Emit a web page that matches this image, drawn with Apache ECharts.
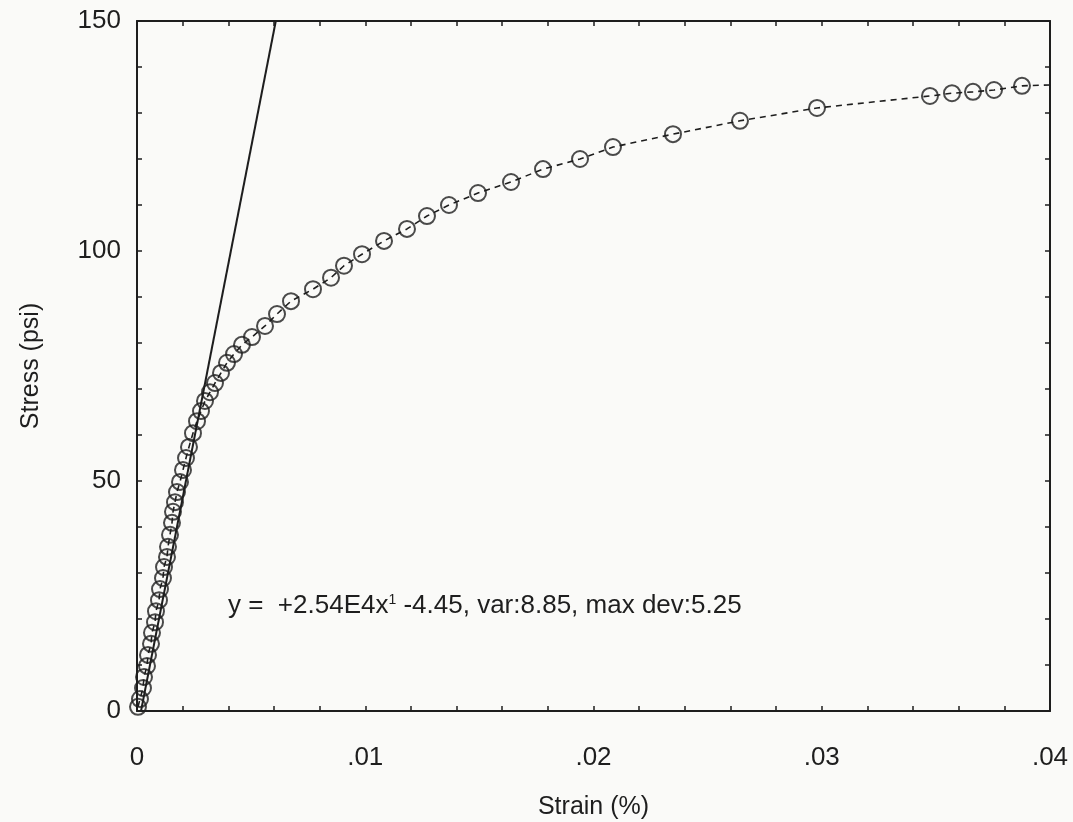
<!DOCTYPE html>
<html>
<head>
<meta charset="utf-8">
<script src="https://cdn.jsdelivr.net/npm/echarts@6/dist/echarts.min.js"></script>
<style>
  html, body { margin: 0; padding: 0; background: #fafaf8; }
  #chart { width: 1073px; height: 822px; }
</style>
</head>
<body>
<div id="chart"></div>
<script>
// Measured strain (%) and stress (psi) pairs
const strain = [
  0.000044, 0.000131, 0.000263, 0.000307, 0.000438, 0.000482, 0.000613, 0.000657,
  0.000789, 0.000832, 0.000964, 0.001008, 0.001139, 0.001183, 0.001314, 0.001358,
  0.001446, 0.001533, 0.001577, 0.001665, 0.001752, 0.001884, 0.002015, 0.002147,
  0.002278, 0.002453, 0.002629, 0.002804, 0.002979, 0.003198, 0.003417, 0.003680,
  0.003943, 0.004250, 0.004600, 0.005038, 0.005608, 0.006134, 0.006747, 0.007711,
  0.008500, 0.009069, 0.009858, 0.010822, 0.011829, 0.012705, 0.013669, 0.014940,
  0.016386, 0.017788, 0.019409, 0.020854, 0.023483, 0.026418, 0.029792, 0.034740,
  0.035706, 0.036626, 0.037547, 0.038773
];
const stress = [
  0.9, 2.6, 5.0, 7.4, 9.8, 12.2, 14.6, 17.0,
  19.3, 21.7, 24.1, 26.5, 28.9, 31.3, 33.5, 35.7,
  38.3, 40.9, 43.3, 45.4, 47.6, 49.8, 52.4, 55.0,
  57.4, 60.4, 63.0, 65.2, 67.4, 69.3, 71.3, 73.5,
  75.7, 77.6, 79.6, 81.3, 83.7, 86.3, 89.1, 91.7,
  94.2, 96.8, 99.3, 102.2, 104.8, 107.6, 110.0, 112.6,
  115.0, 117.8, 120.0, 122.6, 125.4, 128.3, 131.1, 133.7,
  134.3, 134.6, 135.0, 135.9
];
// Smoothed curve continues to the right edge of the plot
const curveEnd = [0.04, 136.1];

// Linear fit of the initial (elastic) region
const fitSlope = 2.54e4;
const fitIntercept = -4.45;
const fitVar = 8.85;
const fitMaxDev = 5.25;

const xTickLabels = ['0', '.01', '.02', '.03', '.04'];
const yTickLabels = ['0', '50', '100', '150'];

const xMin = 0, xMax = 0.04, xStep = 0.002;
const yMin = 0, yMax = 150, yStep = 10;

const points = strain.map((s, i) => [s, stress[i]]);
const curve = points.concat([curveEnd]);
const fitLine = [
  [0, fitIntercept],
  [(yMax - fitIntercept) / fitSlope, yMax]
];

const FONT = '"Liberation Sans", Arial, sans-serif';
const INK = '#1e1e1e';

function xLabel(v) {
  const k = Math.round(v / 0.01 * 1000) / 1000;
  if (Math.abs(k - Math.round(k)) > 1e-6) return '';
  return xTickLabels[Math.round(k)] || '';
}
function yLabel(v) {
  if (Math.round(v) % 50 !== 0) return '';
  return yTickLabels[Math.round(v / 50)] || '';
}

// Shared frame styling: every side of the box carries inward ticks
function frameAxis() {
  return {
    axisLine: { show: true, onZero: false, lineStyle: { color: INK, width: 2 } },
    axisTick: { show: true, inside: true, length: 5, lineStyle: { color: INK, width: 1.5 } },
    splitLine: { show: false }
  };
}

const chart = echarts.init(document.getElementById('chart'));
chart.setOption({
  backgroundColor: '#fafaf8',
  animation: false,
  grid: { left: 137, right: 23, top: 21, bottom: 111, containLabel: false, outerBoundsMode: 'none' },
  xAxis: [
    Object.assign({
      type: 'value', min: xMin, max: xMax, interval: xStep, position: 'bottom',
      name: 'Strain (%)', nameLocation: 'middle', nameGap: 84,
      nameTextStyle: { fontFamily: FONT, fontSize: 25, color: INK },
      axisLabel: { formatter: xLabel, margin: 34, fontFamily: FONT, fontSize: 26, color: INK, showMinLabel: true, showMaxLabel: true }
    }, frameAxis()),
    Object.assign({
      type: 'value', min: xMin, max: xMax, interval: xStep, position: 'top',
      axisLabel: { show: false }
    }, frameAxis())
  ],
  yAxis: [
    Object.assign({
      type: 'value', min: yMin, max: yMax, interval: yStep, position: 'left',
      name: 'Stress (psi)', nameLocation: 'middle', nameGap: 93, nameRotate: 90,
      nameTextStyle: { fontFamily: FONT, fontSize: 25, color: INK },
      axisLabel: { formatter: yLabel, margin: 16, fontFamily: FONT, fontSize: 26, color: INK, showMinLabel: true, showMaxLabel: true }
    }, frameAxis()),
    Object.assign({
      type: 'value', min: yMin, max: yMax, interval: yStep, position: 'right',
      axisLabel: { show: false }
    }, frameAxis())
  ],
  series: [
    {
      name: 'fit',
      type: 'line',
      data: fitLine,
      symbol: 'none',
      clip: true,
      lineStyle: { color: INK, width: 2 },
      z: 3
    },
    {
      name: 'curve',
      type: 'line',
      data: curve,
      symbol: 'none',
      clip: true,
      lineStyle: { color: INK, width: 1.6, type: [6, 5] },
      z: 2
    },
    {
      name: 'measured',
      type: 'scatter',
      data: points,
      symbol: 'circle',
      symbolSize: 16,
      clip: false,
      itemStyle: { color: 'rgba(0,0,0,0)', borderColor: INK, borderWidth: 2 },
      z: 4
    }
  ],
  graphic: [
    {
      type: 'text',
      left: 228,
      top: 593,
      style: {
        text: 'y =  +2.54E4x{sup|1} -4.45, var:' + fitVar.toFixed(2) + ', max dev:' + fitMaxDev.toFixed(2),
        fontFamily: FONT,
        fontSize: 26,
        fill: INK,
        rich: {
          sup: { fontFamily: FONT, fontSize: 14, fill: INK, verticalAlign: 'top', padding: [0, 0, 12, 0] }
        }
      }
    }
  ]
});
</script>
</body>
</html>
